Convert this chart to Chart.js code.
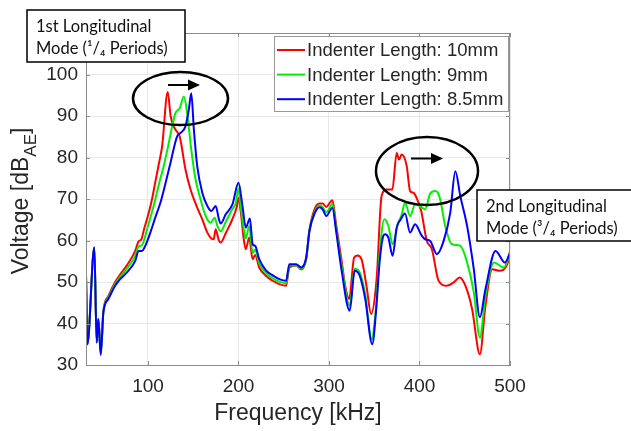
<!DOCTYPE html>
<html>
<head>
<meta charset="utf-8">
<script src="https://cdn.jsdelivr.net/npm/chart.js@4/dist/chart.umd.min.js"></script>
<style>
  html, body { margin: 0; padding: 0; background: #fff; }
  #wrap { width: 631px; height: 431px; position: relative; }
</style>
</head>
<body>
<div id="wrap"><canvas id="freqChart" width="631" height="431"></canvas></div>
<script>
// values
const seriesLabels = ['Indenter Length: 10mm', 'Indenter Length: 9mm', 'Indenter Length: 8.5mm'];
const xTicks = [100, 200, 300, 400, 500];
const yTicks = [30, 40, 50, 60, 70, 80, 90, 100];

const redFreq = [31.5, 33, 40.7, 43.3, 45.1, 47.8, 50.7, 56.2, 63.7, 69.2, 76.7, 85.9, 89.6, 92.5, 96, 100, 104, 108, 112, 115.6, 121.8, 125, 128.4, 131, 135.1, 141.4, 147, 153.7, 160, 165.6, 170, 172.5, 174.8, 178, 180.3, 186, 193, 198, 200, 202.6, 206, 208.1, 211.8, 215.6, 218.4, 222.9, 230.3, 237.8, 245.1, 252.6, 256.2, 263.7, 269.2, 274.8, 278.4, 284, 289.6, 293, 297, 303.7, 308.1, 313.7, 318, 322.2, 327.8, 331.4, 335.9, 341.4, 346.5, 352.6, 358.1, 363.7, 370, 374.8, 377.3, 380.3, 385.9, 389.6, 393.3, 398.9, 402, 408.1, 413.7, 421.1, 430.3, 437.8, 444.4, 450.7, 458.1, 466.7, 472.9, 480.3, 488.4, 497, 500];
const redDb = [52, 35, 58.3, 35.4, 41.1, 33, 43, 46.6, 50, 51.8, 54, 57.5, 59.8, 60.2, 63, 66, 69.5, 74, 78.5, 82.7, 95.8, 90, 87.5, 86.5, 85, 77.1, 72.3, 68.3, 65.1, 61.9, 60.5, 60.3, 62.7, 60.2, 59.5, 61.8, 65, 68, 70.3, 66.7, 60, 57.9, 60.7, 55.5, 56.5, 53.5, 51.5, 50.3, 49.5, 49.1, 53.5, 54, 53, 55.5, 62.5, 67.5, 68.9, 68.9, 68.1, 69.7, 63.5, 55.5, 49, 45.9, 55.9, 56.4, 55.5, 49.1, 42.3, 50.7, 70.7, 72.3, 72.3, 81.1, 79.5, 80.7, 77.9, 71.9, 71.5, 69.1, 67, 59.9, 57.9, 50.3, 49.1, 49.9, 51.1, 49.1, 43.5, 32.6, 44.3, 53.1, 52.7, 54.3, 57.5];

const greenFreq = [31.5, 33, 40.7, 43.3, 45.1, 47.8, 50.7, 56.2, 63.7, 69.2, 76.7, 85.9, 89.6, 93, 100, 106.2, 112, 117.3, 122, 126.7, 130.3, 135.1, 139.6, 143.3, 147.8, 152.6, 158.1, 163.7, 169.2, 173.7, 176.7, 180.3, 186, 193, 197, 200, 202.6, 206, 208.1, 211.8, 215.6, 218.4, 222.9, 230.3, 237.8, 245.1, 252.6, 256.2, 263.7, 269.2, 274.8, 278.4, 284, 289.6, 293, 297, 303.7, 308.1, 313.7, 322.9, 328.4, 334, 340, 347, 352, 356, 361.1, 365.6, 370.3, 375.9, 380, 384, 389.6, 395.1, 402.6, 406.2, 411.8, 417.3, 420.3, 422.9, 428.4, 435.9, 445.1, 452.6, 460, 466.7, 472.9, 482.2, 493.3, 500];
const greenDb = [52, 35, 58.3, 35.4, 41.1, 32.8, 42.8, 46.2, 49.5, 51.2, 53.2, 56.3, 58.6, 58.8, 63.5, 68.3, 73.5, 77.9, 82.5, 87.5, 90.7, 91.9, 94.7, 90.7, 81.9, 74.7, 69.9, 65.9, 64.3, 65.5, 63.5, 62.2, 64.5, 67.5, 69, 72.5, 68, 62.5, 60.5, 63.5, 57, 57.8, 54.5, 52.2, 50.9, 50.1, 49.7, 54, 54, 53.2, 55.7, 62.4, 66.8, 68.5, 68, 66.8, 68.8, 62.5, 54.3, 44.3, 53.2, 52.3, 47, 36.2, 44, 57, 65.1, 63.5, 59.1, 63.9, 66, 69.1, 65.9, 68.7, 68, 67.5, 71.3, 71.9, 71.5, 69.9, 63.5, 59.1, 58.7, 54.7, 47.5, 36.6, 46.7, 54.7, 53.5, 57];

const blueFreq = [31.5, 33, 40.7, 43.3, 45.1, 47.8, 50.7, 56.2, 63.7, 69.2, 76.7, 85.9, 89.6, 93.3, 97, 102.6, 108, 113.7, 119, 124.8, 132.2, 135.9, 141.4, 145.1, 147.8, 150.7, 154.4, 160, 165.6, 170, 174.8, 178.4, 180.3, 185.9, 193.3, 200, 204.4, 208.1, 212.6, 215.6, 218.4, 222.9, 230.3, 237.8, 245.1, 252.6, 256.2, 263.7, 269.2, 274.8, 278.4, 284, 289.6, 293, 297, 303.7, 308.1, 313.7, 322.9, 328.4, 331, 334, 340, 347.8, 352, 356, 360, 362, 365.6, 370.3, 374.8, 379, 384, 389.6, 395.1, 402.6, 406.2, 411.8, 419.2, 426.7, 434, 439.6, 445.1, 452.6, 460, 466.7, 472.9, 484, 494.4, 500];
const blueDb = [52, 35, 58.3, 35.4, 41.1, 32.4, 42.7, 45.9, 49.1, 50.7, 52.3, 55.1, 57.5, 57.5, 58.7, 61.9, 65.5, 69.1, 73.5, 78.7, 85.1, 85.9, 87.5, 91.5, 95.5, 86.7, 77.9, 71.5, 68.3, 67.1, 68.3, 65.1, 64.1, 66.3, 68.7, 73.9, 68.3, 63.1, 65.3, 59.1, 58.7, 55.5, 52.8, 51.6, 50.7, 50.3, 54.3, 54.3, 53.5, 55.9, 62.3, 66.5, 68, 67.5, 65.9, 67.9, 61.9, 53.1, 43.1, 52.7, 52.5, 51.5, 46, 35, 43, 55, 61.1, 61.5, 60.7, 56.3, 63.1, 65, 66.5, 61.9, 63.9, 61.1, 60.3, 59.9, 56.7, 59.9, 66.7, 76.7, 70.7, 63.5, 53.1, 41.5, 48.3, 57.5, 54.7, 57];

const lineColors = ['#ff0000', '#00ee00', '#0000ff'];

function pairs(fs, vs) {
  return fs.map((f, i) => ({ x: f, y: vs[i] }));
}

const textColor = '#262626';
const boxColor = '#8c8c8c';

// extras drawn on top: box, ticks, legend, notes, ellipses, y title
const extras = {
  id: 'extras',
  afterDatasetsDraw(chart) {
    const { ctx, chartArea: a, scales: { x, y } } = chart;
    ctx.save();

    // box + inward ticks
    ctx.strokeStyle = boxColor;
    ctx.lineWidth = 1;
    ctx.strokeRect(a.left + 0.5, a.top + 0.5, a.right - a.left - 1, a.bottom - a.top);
    ctx.beginPath();
    yTicks.forEach(v => {
      const py = Math.round(y.getPixelForValue(v)) + 0.5;
      ctx.moveTo(a.left, py); ctx.lineTo(a.left + 4, py);
      ctx.moveTo(a.right, py); ctx.lineTo(a.right - 4, py);
    });
    xTicks.forEach(v => {
      const px = Math.round(x.getPixelForValue(v)) + 0.5;
      ctx.moveTo(px, a.bottom); ctx.lineTo(px, a.bottom - 4);
      ctx.moveTo(px, a.top); ctx.lineTo(px, a.top + 4);
    });
    ctx.stroke();

    // legend
    ctx.fillStyle = '#fff';
    ctx.fillRect(274, 36, 234, 75);
    ctx.strokeStyle = '#999';
    ctx.strokeRect(274.5, 36.5, 234, 75);
    ctx.font = '18.5px "Liberation Sans", Arial, sans-serif';
    ctx.textBaseline = 'middle';
    seriesLabels.forEach((lab, i) => {
      const ly = 50 + i * 24.6;
      ctx.strokeStyle = lineColors[i];
      ctx.lineWidth = 2;
      ctx.beginPath(); ctx.moveTo(277, ly); ctx.lineTo(305, ly); ctx.stroke();
      ctx.fillStyle = textColor;
      ctx.fillText(lab, 307, ly + 1);
    });

    // ellipses and arrows
    ctx.strokeStyle = '#000';
    ctx.lineWidth = 2.5;
    ctx.beginPath(); ctx.ellipse(180.5, 98.5, 47.5, 26.5, 0, 0, Math.PI * 2); ctx.stroke();
    ctx.beginPath(); ctx.ellipse(427, 171, 51, 34, 0, 0, Math.PI * 2); ctx.stroke();
    [[168, 190, 85], [411, 433, 158.5]].forEach(([x0, x1, ay]) => {
      ctx.lineWidth = 2;
      ctx.beginPath(); ctx.moveTo(x0, ay); ctx.lineTo(x1, ay); ctx.stroke();
      ctx.fillStyle = '#000';
      ctx.beginPath(); ctx.moveTo(x1 - 2, ay - 5.5); ctx.lineTo(x1 + 10, ay); ctx.lineTo(x1 - 2, ay + 5.5); ctx.closePath(); ctx.fill();
    });

    // note boxes
    const note = (bx, by, bw, bh, lines) => {
      ctx.fillStyle = '#fff';
      ctx.fillRect(bx, by, bw, bh);
      ctx.strokeStyle = '#000';
      ctx.lineWidth = 1.5;
      ctx.strokeRect(bx, by, bw, bh);
      ctx.fillStyle = '#111';
      ctx.font = '16.5px Lato, "Open Sans", sans-serif';
      ctx.textBaseline = 'alphabetic';
      lines.forEach((t, i) => ctx.fillText(t, bx + 9, by + 22 + i * 21.5));
    };
    note(27, 10, 158, 52, ['1st Longitudinal', 'Mode (\u00b9/\u2084 Periods)']);
    note(477, 190, 160, 51, ['2nd Longitudinal', 'Mode (\u00b3/\u2084 Periods)']);

    // y title with subscript
    ctx.fillStyle = textColor;
    ctx.translate(28, 201);
    ctx.rotate(-Math.PI / 2);
    const f1 = '23px "Liberation Sans", Arial, sans-serif';
    const f2 = '17px "Liberation Sans", Arial, sans-serif';
    ctx.font = f1; const w1 = ctx.measureText('Voltage [dB').width; const w3 = ctx.measureText(']').width;
    ctx.font = f2; const w2 = ctx.measureText('AE').width;
    let sx = -(w1 + w2 + w3) / 2;
    ctx.textBaseline = 'alphabetic';
    ctx.font = f1; ctx.fillText('Voltage [dB', sx, 0); sx += w1;
    ctx.font = f2; ctx.fillText('AE', sx, 8); sx += w2;
    ctx.font = f1; ctx.fillText(']', sx, 0);

    ctx.restore();
  }
};

const ctx = document.getElementById('freqChart').getContext('2d');

new Chart(ctx, {
  type: 'line',
  data: {
    datasets: [
      { label: seriesLabels[0], data: pairs(redFreq, redDb), borderColor: lineColors[0], order: 2 },
      { label: seriesLabels[1], data: pairs(greenFreq, greenDb), borderColor: lineColors[1], order: 1 },
      { label: seriesLabels[2], data: pairs(blueFreq, blueDb), borderColor: lineColors[2], order: 0 }
    ].map(d => Object.assign(d, {
      borderWidth: 2,
      pointRadius: 0,
      fill: false,
      cubicInterpolationMode: 'monotone'
    }))
  },
  options: {
    responsive: false,
    animation: false,
    devicePixelRatio: 1,
    layout: { padding: { top: 33, right: 121, left: 0, bottom: 0 } },
    plugins: { legend: { display: false }, tooltip: { enabled: false } },
    scales: {
      x: {
        type: 'linear',
        min: 31.5,
        max: 500,
        afterFit: s => { s.height = 66; },
        afterBuildTicks: s => { s.ticks = xTicks.map(v => ({ value: v })); },
        grid: { color: '#e8e8e8', drawTicks: false },
        border: { color: boxColor },
        ticks: { color: textColor, padding: 10, maxRotation: 0, font: { family: '"Liberation Sans", Arial, sans-serif', size: 19 } },
        title: {
          display: true,
          text: 'Frequency [kHz]',
          color: textColor,
          padding: { top: 0, bottom: 4 },
          font: { family: '"Liberation Sans", Arial, sans-serif', size: 23 }
        }
      },
      y: {
        min: 30,
        max: 110,
        afterFit: s => { s.width = 86; },
        afterBuildTicks: s => { s.ticks = yTicks.map(v => ({ value: v })); },
        grid: { color: '#e8e8e8', drawTicks: false },
        border: { color: boxColor },
        ticks: { color: textColor, padding: 8, font: { family: '"Liberation Sans", Arial, sans-serif', size: 19 } }
      }
    }
  },
  plugins: [extras]
});
</script>
</body>
</html>
